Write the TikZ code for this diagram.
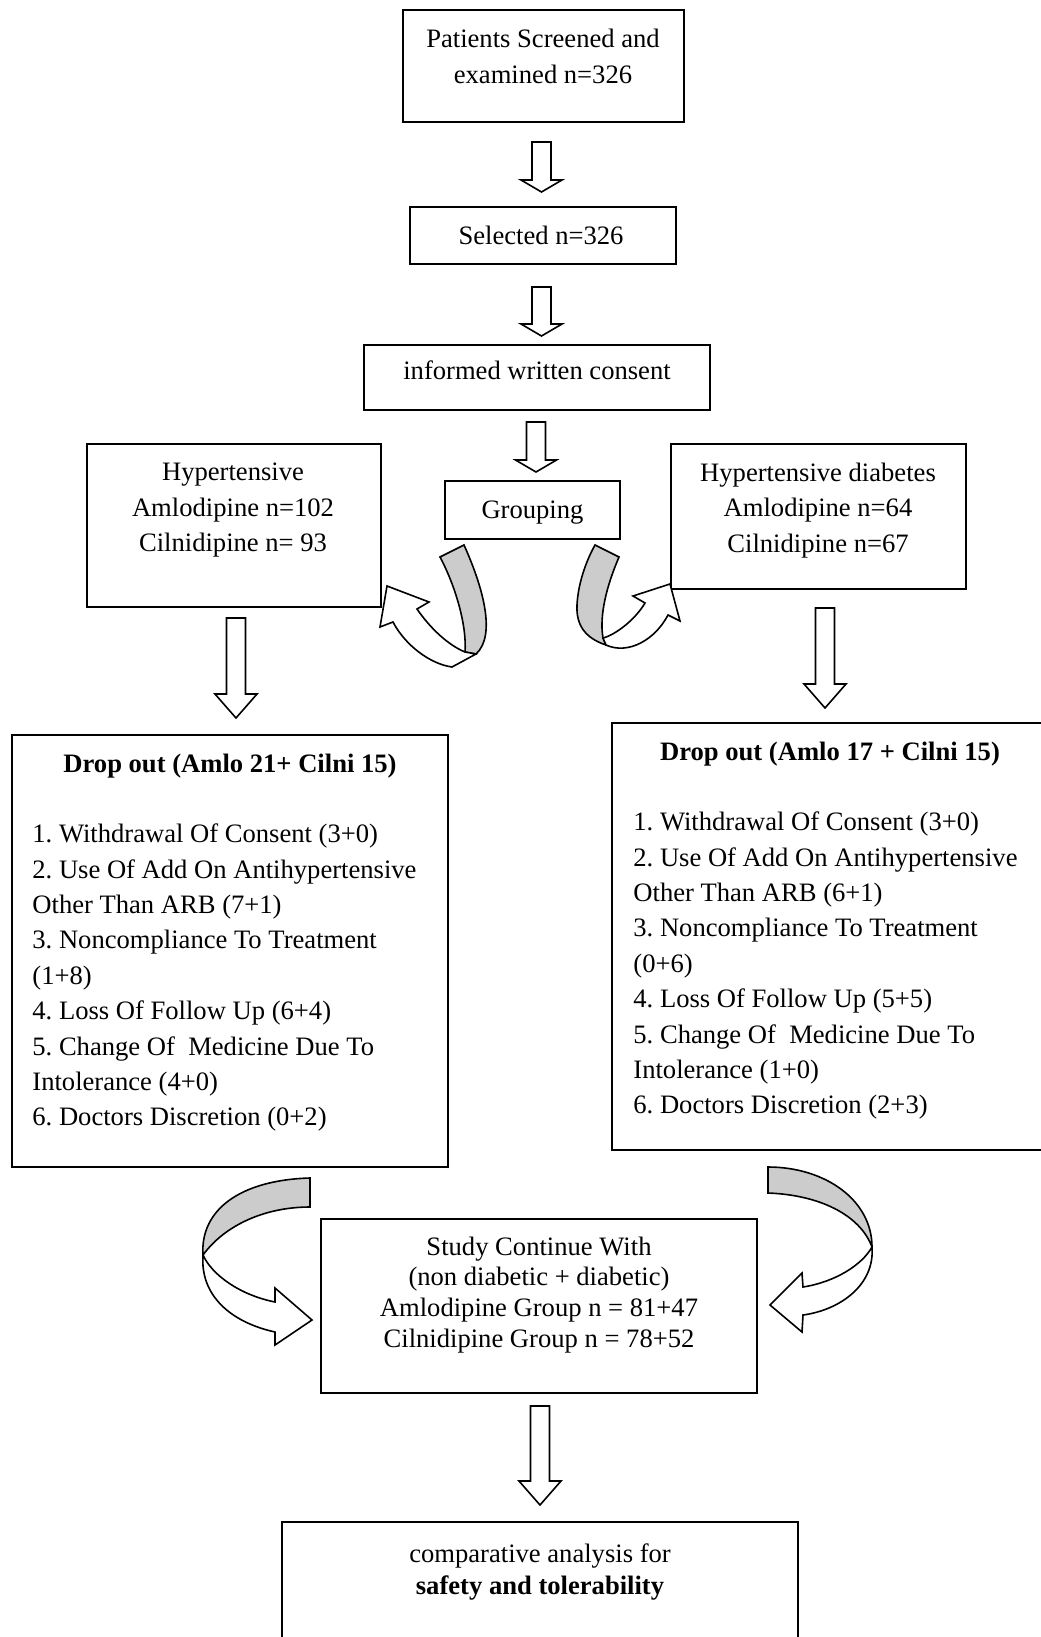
\documentclass[tikz,border=0pt]{standalone}
\usepackage{fontspec}
\setmainfont{Liberation Serif}
\frenchspacing
\begin{document}
\begin{tikzpicture}[x=0.5pt, y=-0.5pt,
    box/.style={draw, line width=1pt, inner sep=0pt},
    txt/.style={inner sep=0pt, align=center, anchor=north, font=\fontsize{13.3}{17.75}\selectfont},
    lst/.style={inner sep=0pt, align=left, anchor=north west, font=\fontsize{13.3}{17.7}\selectfont},
    blockarrow/.style={draw, fill=white, line width=0.8pt},
    ribbon/.style={draw, fill=black!20, line width=0.8pt}]
\useasboundingbox (0,0) rectangle (1040,1637);

% Box patients screened
\node (screen) [box, minimum width=140.5pt, minimum height=56pt] at (543.5,66) {};
\node (screentxt) [txt] at (543,29) {Patients Screened and\\examined n=326};

% Arrow screened -> selected
\draw [blockarrow] (532,142) -- (551,142) -- (551,180) -- (562,180) -- (541.5,192) -- (521,180) -- (532,180) -- cycle;

% Box selected
\node (select) [box, minimum width=133pt, minimum height=28.5pt] at (543,235.5) {};
\node (selecttxt) [txt] at (541,225.5) {Selected n=326};

% Arrow selected -> consent
\draw [blockarrow] (532,287) -- (551,287) -- (551,324) -- (562,324) -- (541.5,336) -- (521,324) -- (532,324) -- cycle;

% Box informed consent
\node (consent) [box, minimum width=173pt, minimum height=32.5pt] at (537,377) {};
\node (consenttxt) [txt] at (537,360.5) {informed written consent};

% Arrow consent -> grouping
\draw [blockarrow] (526.5,422) -- (545.5,422) -- (545.5,460) -- (556.5,460) -- (536,472) -- (515.5,460) -- (526.5,460) -- cycle;

% Box grouping
\node (group) [box, minimum width=87.75pt, minimum height=28.7pt] at (532.5,510) {};
\node (grouptxt) [txt] at (532.5,500) {Grouping};

% Box hypertensive
\node (hyp) [box, minimum width=147pt, minimum height=81.5pt] at (234,525.5) {};
\node (hyptxt) [txt] at (233,462.5) {Hypertensive\\Amlodipine n=102\\Cilnidipine n= 93};

% Box hypertensive diabetes
\node (hypdm) [box, minimum width=147.5pt, minimum height=72.5pt] at (818.5,516.5) {};
\node (hypdmtxt) [txt] at (818,462.5) {Hypertensive diabetes\\Amlodipine n=64\\Cilnidipine n=67};

% Curved arrow grouping -> hypertensive
\draw [ribbon] (440,557) -- (464,545) .. controls (482,585) and (497,635) .. (476,654) -- (465,652) .. controls (467,625) and (455,585) .. (440,557) -- cycle;
\draw [blockarrow] (476,654) -- (452,667) .. controls (430,664) and (405,645) .. (393,622) -- (380,627) -- (387,586) -- (429,602) -- (417,609) .. controls (430,628) and (448,645) .. (465,652) -- cycle;

% Curved arrow grouping -> hypertensive diabetes
\draw [ribbon] (595,545) -- (619,557) .. controls (607,585) and (599,615) .. (603,638) -- (606,645) .. controls (585,638) and (576,625) .. (577,605) .. controls (578,585) and (585,563) .. (595,545) -- cycle;
\draw [blockarrow] (603,638) .. controls (615,635) and (635,620) .. (645,603) -- (633,596) -- (670,584) -- (680,621) -- (668,615) .. controls (655,640) and (628,655) .. (606,645) -- cycle;

% Arrow hypertensive -> drop out
\draw [blockarrow] (226.5,618) -- (245.5,618) -- (245.5,694) -- (257,694) -- (236,718) -- (215,694) -- (226.5,694) -- cycle;

% Arrow hypertensive diabetes -> drop out
\draw [blockarrow] (815.5,608) -- (834.5,608) -- (834.5,684) -- (846,684) -- (825,708) -- (804,684) -- (815.5,684) -- cycle;

% Box drop out, hypertensive
\node (dropA) [box, minimum width=218pt, minimum height=216pt] at (230,951) {};
\node (dropAtitle) [txt] at (230,753.5) {\bfseries Drop out (Amlo 21+ Cilni 15)};
\node (dropAlist) [lst] at (32,823.5) {1. Withdrawal Of Consent (3+0)\\
  2. Use Of Add On Antihypertensive\\Other Than ARB (7+1)\\
  3. Noncompliance To Treatment\\(1+8)\\
  4. Loss Of Follow Up (6+4)\\
  5. Change Of\ \ Medicine Due To\\Intolerance (4+0)\\
  6. Doctors Discretion (0+2)};

% Box drop out, hypertensive diabetes
\node (dropB) [box, minimum width=216.5pt, minimum height=213.5pt] at (828.5,936.5) {};
\node (dropBtitle) [txt] at (830,741.5) {\bfseries Drop out (Amlo 17 + Cilni 15)};
\node (dropBlist) [lst] at (633,811.5) {1. Withdrawal Of Consent (3+0)\\
  2. Use Of Add On Antihypertensive\\Other Than ARB (6+1)\\
  3. Noncompliance To Treatment\\(0+6)\\
  4. Loss Of Follow Up (5+5)\\
  5. Change Of\ \ Medicine Due To\\Intolerance (1+0)\\
  6. Doctors Discretion (2+3)};

% Curved arrow drop out -> study, left
\draw [ribbon] (310,1178) -- (310,1207) .. controls (265,1207) and (225,1225) .. (203,1255) .. controls (200,1210) and (240,1180) .. (310,1178) -- cycle;
\draw [blockarrow] (203,1255) .. controls (200,1295) and (230,1322) .. (275,1332) -- (275,1345) -- (312,1320) -- (275,1288) -- (275,1302) .. controls (240,1295) and (212,1275) .. (203,1255) -- cycle;

% Curved arrow drop out -> study, right
\draw [ribbon] (768,1167) .. controls (825,1167) and (872,1200) .. (872,1247) .. controls (860,1215) and (820,1195) .. (768,1193) -- cycle;
\draw [blockarrow] (872,1247) .. controls (875,1285) and (840,1310) .. (803,1315) -- (802,1332) -- (770,1305) -- (802,1273) -- (803,1287) .. controls (835,1282) and (862,1265) .. (872,1247) -- cycle;

% Box study continue
\node (study) [box, minimum width=218pt, minimum height=87pt] at (539,1306) {};
\node (studytxt) [txt, font=\fontsize{13.3}{15.3}\selectfont] at (539,1236.5) {Study Continue With\\(non diabetic + diabetic)\\Amlodipine Group n = 81+47\\Cilnidipine Group n = 78+52};

% Arrow study -> analysis
\draw [blockarrow] (530.5,1406) -- (549.5,1406) -- (549.5,1481) -- (561,1481) -- (540,1505) -- (519,1481) -- (530.5,1481) -- cycle;

% Box comparative analysis
\node (analysis) [box, minimum width=258pt, minimum height=61.5pt] at (540,1583.5) {};
\node (analysistxt) [txt, font=\fontsize{13.3}{16}\selectfont] at (540,1543.5) {comparative analysis for\\\textbf{safety and tolerability}};
\end{tikzpicture}
\end{document}
